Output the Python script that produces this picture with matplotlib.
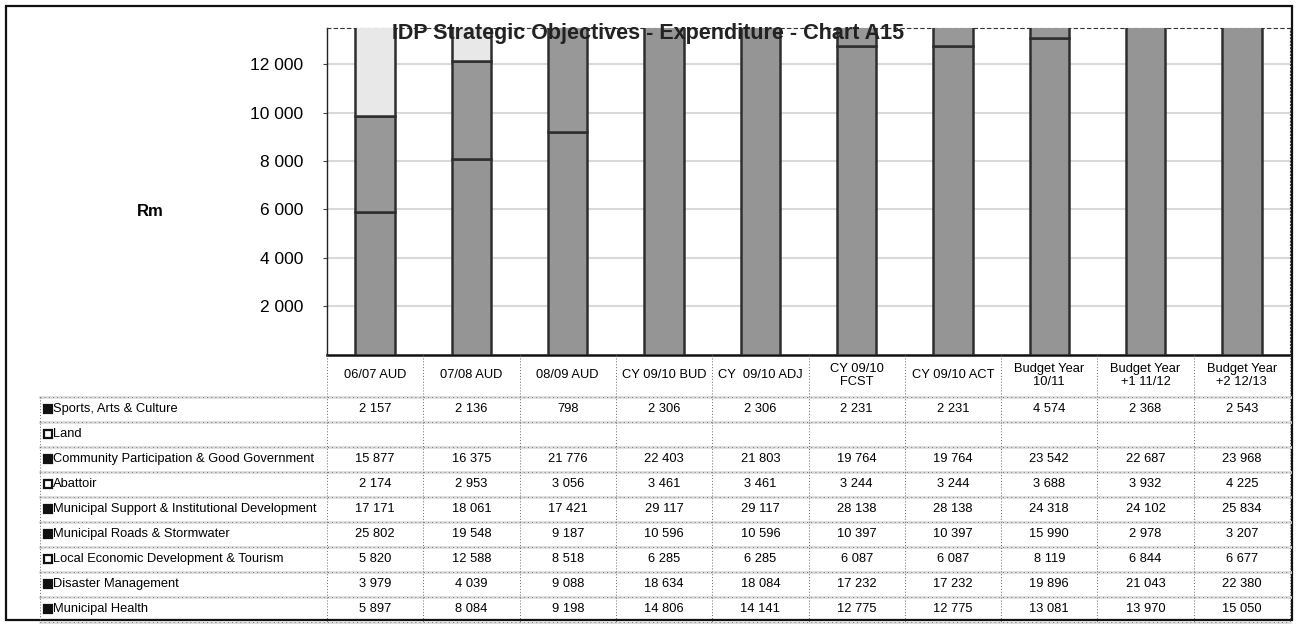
import matplotlib
matplotlib.use("Agg")
import matplotlib.pyplot as plt
from matplotlib.patches import Rectangle
import numpy as np

plt.rcParams['font.family'] = ['Liberation Sans', 'DejaVu Sans']

# column headings (financial years)
years = ["06/07 AUD", "07/08 AUD", "08/09 AUD", "CY 09/10 BUD", "CY  09/10 ADJ",
         "CY 09/10\nFCST", "CY 09/10 ACT", "Budget Year\n10/11",
         "Budget Year\n+1 11/12", "Budget Year\n+2 12/13"]

# expenditure per strategic objective, Rm
sports = [2157, 2136, 798, 2306, 2306, 2231, 2231, 4574, 2368, 2543]
land = [None] * 10
community = [15877, 16375, 21776, 22403, 21803, 19764, 19764, 23542, 22687, 23968]
abattoir = [2174, 2953, 3056, 3461, 3461, 3244, 3244, 3688, 3932, 4225]
support = [17171, 18061, 17421, 29117, 29117, 28138, 28138, 24318, 24102, 25834]
roads = [25802, 19548, 9187, 10596, 10596, 10397, 10397, 15990, 2978, 3207]
led = [5820, 12588, 8518, 6285, 6285, 6087, 6087, 8119, 6844, 6677]
disaster = [3979, 4039, 9088, 18634, 18084, 17232, 17232, 19896, 21043, 22380]
health = [5897, 8084, 9198, 14806, 14141, 12775, 12775, 13081, 13970, 15050]

# table order, top to bottom (bars stack in reverse)
names = ["Sports, Arts & Culture", "Land", "Community Participation & Good Government",
         "Abattoir", "Municipal Support & Institutional Development",
         "Municipal Roads & Stormwater", "Local Economic Development & Tourism",
         "Disaster Management", "Municipal Health"]
series = [sports, land, community, abattoir, support, roads, led, disaster, health]
colors = ["#4a4a4a", "#ffffff", "#5e5e5e", "#dedede", "#707070", "#606060",
          "#e8e8e8", "#989898", "#959595"]

W, H = 1297, 624
fig = plt.figure(figsize=(W / 100, H / 100), dpi=100)

# plot area in pixel terms
px_l, px_r, px_t, px_b = 327, 1290, 28, 354.5
ax = fig.add_axes([px_l / W, 1 - px_b / H, (px_r - px_l) / W, (px_b - px_t) / H])

x = np.arange(len(years))
bottom = np.zeros(len(years))
for vals, col in zip(series[::-1], colors[::-1]):
    v = np.array([0 if n is None else n for n in vals], dtype=float)
    ax.bar(x, v, 0.41, bottom=bottom, color=col, edgecolor="#2e2e2e",
           linewidth=1.8, zorder=3)
    bottom += v

ax.set_xlim(-0.5, len(years) - 0.5)
ax.set_ylim(0, 13500)
ax.set_yticks(np.arange(2000, 13000, 2000))
ax.set_yticklabels([f"{t:,}".replace(",", " ") for t in range(2000, 13000, 2000)],
                   fontsize=12.5)
ax.set_xticks([])
ax.tick_params(axis="y", length=3, pad=14, color="#444444")
ax.yaxis.grid(True, color="#dadada", linewidth=1.5, zorder=0)
ax.spines["left"].set_color("#222222")
ax.spines["left"].set_linewidth(1.0)
ax.spines["bottom"].set_color("#111111")
ax.spines["bottom"].set_linewidth(1.8)
ax.spines["top"].set_linestyle((0, (3, 3)))
ax.spines["top"].set_color("#333333")
ax.spines["top"].set_linewidth(0.8)
ax.spines["right"].set_linestyle((0, (1, 2)))
ax.spines["right"].set_color("#444444")
ax.spines["right"].set_linewidth(0.8)

# overlay in pixel coordinates for the frame, title and data table
ov = fig.add_axes([0, 0, 1, 1], zorder=5)
ov.set_xlim(0, W)
ov.set_ylim(H, 0)
ov.axis("off")
ov.patch.set_alpha(0)

ov.add_patch(Rectangle((6, 6), 1286, 614, fill=False, edgecolor="#111111",
                       linewidth=1.6))
ov.text(648, 33, "IDP Strategic Objectives - Expenditure - Chart A15",
        fontsize=15.5, fontweight="bold", ha="center", va="center", color="#222222")
ov.text(150, 212, "Rm", fontsize=12, fontweight="bold", ha="center", va="center")

col_w = (px_r - px_l) / len(years)
row_h = 25.0
tab_top = 396.5
lab_l = 40
n_rows = len(names)

# header cells
for i, lab in enumerate(years):
    ov.text(px_l + (i + 0.5) * col_w, (px_b + tab_top) / 2, lab, fontsize=9.3,
            ha="center", va="center", linespacing=1.05)

# row separators
for r in range(n_rows + 1):
    y = tab_top + r * row_h
    ov.plot([lab_l, px_r], [y, y], color="#dcdcdc", linewidth=2.0, zorder=1)
    ov.plot([lab_l, px_r], [y, y], color="#555555", linewidth=0.6,
            linestyle=(0, (1, 4)), zorder=2)

# column separators
for i in range(len(years) + 1):
    xx = px_l + i * col_w
    ov.plot([xx, xx], [px_b, tab_top + n_rows * row_h], color="#666666",
            linewidth=0.7, linestyle=(0, (1, 2)))
ov.plot([lab_l, lab_l], [tab_top, tab_top + n_rows * row_h], color="#666666",
        linewidth=0.7, linestyle=(0, (1, 2)))

for r, (name, vals, col) in enumerate(zip(names, series, colors)):
    yc = tab_top + (r + 0.5) * row_h
    light = col.lower() in ("#ffffff", "#dedede", "#e8e8e8")
    ov.add_patch(Rectangle((44, yc - 4.5), 8, 8,
                           facecolor="white" if light else "#111111",
                           edgecolor="#111111", linewidth=1.6, zorder=3))
    ov.text(53, yc, name, fontsize=9.3, ha="left", va="center")
    for i, v in enumerate(vals):
        if v is None:
            continue
        ov.text(px_l + (i + 0.5) * col_w, yc, f"{v:,}".replace(",", " "),
                fontsize=9.3, ha="center", va="center")

fig.savefig("out.png", dpi=100)
